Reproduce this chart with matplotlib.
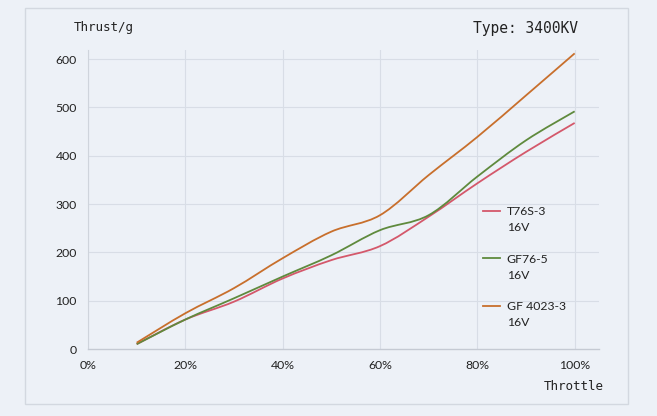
import matplotlib
matplotlib.use("Agg")
import matplotlib.pyplot as plt
from matplotlib.path import Path
from matplotlib.patches import PathPatch, Rectangle
from matplotlib.lines import Line2D
import numpy as np

# data
throttle = [10, 20, 30, 40, 50, 60, 70, 80, 90, 100]
t76s = [10, 61, 98, 146, 184, 213, 274, 343, 408, 468]
gf76 = [10, 61, 105, 150, 194, 246, 277, 357, 432, 492]
gf4023 = [13, 74, 126, 188, 243, 277, 360, 439, 525, 612]
names = ["T76S-3", "GF76-5", "GF 4023-3"]
voltage = "16V"
colors = ["#d4586b", "#5f8a3d", "#c86f2c"]
xticks = [0, 20, 40, 60, 80, 100]
yticks = [0, 100, 200, 300, 400, 500, 600]

BG = "#edf1f7"
GRID = "#d8dde6"
TXT = "#222222"


def smooth_path(x, y):
    # excel style smoothed line: bezier through the points
    p = np.column_stack([x, y]).astype(float)
    n = len(p)
    verts = [p[0]]
    codes = [Path.MOVETO]
    for i in range(n - 1):
        p0 = p[i - 1] if i > 0 else p[i]
        p3 = p[i + 2] if i + 2 < n else p[i + 1]
        c1 = p[i] + (p[i + 1] - p0) / 6.0
        c2 = p[i + 1] - (p3 - p[i]) / 6.0
        verts += [c1, c2, p[i + 1]]
        codes += [Path.CURVE4] * 3
    return Path(verts, codes)


fig = plt.figure(figsize=(6.57, 4.16), dpi=100)
fig.patch.set_facecolor(BG)
# outer frame of the chart area
fig.patches.append(Rectangle((25 / 657, 1 - 404 / 416), 603 / 657, 396 / 416,
                             transform=fig.transFigure, facecolor="none",
                             edgecolor="#d3d8e0", linewidth=1.0, zorder=-5))

ax = fig.add_axes([88 / 657, 1 - 349 / 416, 511 / 657, 299 / 416])
ax.set_facecolor("none")
ax.set_xlim(0, 105)
ax.set_ylim(0, 619)

for v in xticks:
    ax.axvline(v, color=GRID, linewidth=0.8, zorder=0)
for v in yticks[1:]:
    ax.axhline(v, color=GRID, linewidth=0.8, zorder=0)

for s in ["top", "right"]:
    ax.spines[s].set_visible(False)
ax.spines["left"].set_color("#cfd4dc")
ax.spines["bottom"].set_color("#c5cad3")
ax.spines["left"].set_linewidth(0.8)
ax.spines["bottom"].set_linewidth(1.0)

series = [t76s, gf76, gf4023]
handles = []
spacers = []
for i, (vals, c, name) in enumerate(zip(series, colors, names)):
    ax.add_patch(PathPatch(smooth_path(throttle, vals), facecolor="none",
                           edgecolor=c, linewidth=1.3, zorder=3))
    # legend: name next to the line, voltage on the row below
    handles.append(Line2D([], [], color=c, linewidth=1.3, label=name))
    handles.append(Line2D([], [], color="none", label=voltage))
    if i < len(names) - 1:
        spacers.append(len(handles))
        handles.append(Line2D([], [], color="none", label=voltage))

ax.set_xticks(xticks)
ax.set_xticklabels([f"{v}%" for v in xticks])
ax.set_yticks(yticks)
ax.tick_params(length=0, labelsize=8.8, labelcolor=TXT, pad=8)
for lbl in ax.get_xticklabels() + ax.get_yticklabels():
    lbl.set_family("Lato")

leg = ax.legend(handles=handles, loc="upper left",
                bbox_to_anchor=(472 / 657, 1 - 195 / 416),
                bbox_transform=fig.transFigure, frameon=False,
                handlelength=1.4, handletextpad=0.55,
                labelspacing=0.4, prop={"family": "Lato", "size": 8.8})
for k, t in enumerate(leg.get_texts()):
    t.set_color("none" if k in spacers else TXT)

fig.text(74 / 657, 1 - 28 / 416, "Thrust/g", fontsize=9,
         family="DejaVu Sans Mono", color=TXT, va="center")
fig.text(578 / 657, 1 - 28 / 416, "Type: 3400KV", fontsize=10.5,
         family="DejaVu Sans Mono", color=TXT, va="center", ha="right")
fig.text(604 / 657, 1 - 387 / 416, "Throttle", fontsize=9,
         family="DejaVu Sans Mono", color=TXT, va="center", ha="right")

fig.savefig("out.png", dpi=100, facecolor=BG)
